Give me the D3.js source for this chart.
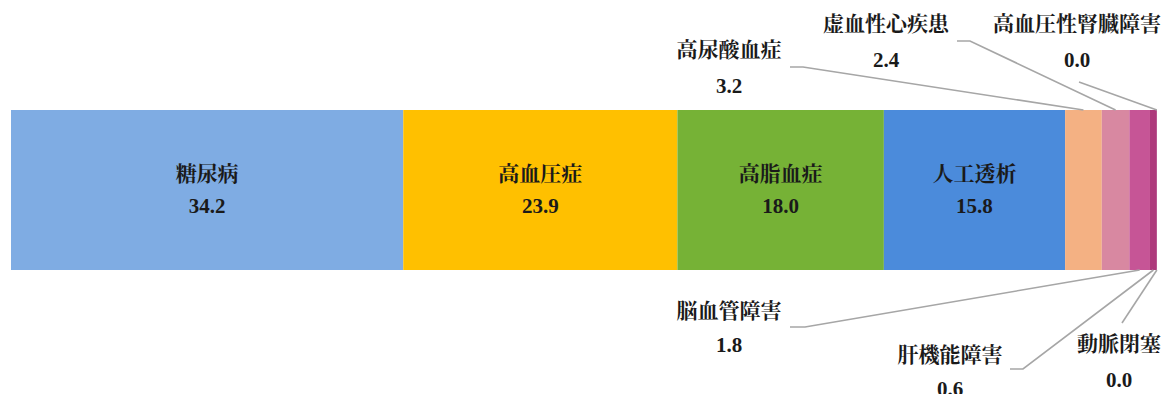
<!DOCTYPE html>
<html>
<head>
<meta charset="utf-8">
<script src="https://cdn.jsdelivr.net/npm/d3@7/dist/d3.min.js"></script>
<style>
  html, body { margin: 0; padding: 0; background: #fff; }
  svg text { font-family: "Liberation Serif", "Noto Serif CJK JP", "Noto Sans CJK JP", serif; font-weight: bold; fill: #1a1a1a; }
</style>
</head>
<body>
<svg id="chart" width="1165" height="394"></svg>
<script>
// Share of complications (%), in stacking order
const categories = ["糖尿病", "高血圧症", "高脂血症", "人工透析", "高尿酸血症", "虚血性心疾患", "脳血管障害", "肝機能障害", "動脈閉塞", "高血圧性腎臓障害"];
const values = [34.2, 23.9, 18.0, 15.8, 3.2, 2.4, 1.8, 0.6, 0.0, 0.0];
const colors = ["#7facE3", "#ffc000", "#76b236", "#4b8bdb", "#f4b183", "#d888a1", "#c65596", "#ae3a7c", "#9e2f6e", "#8e2a63"];

// Callout placement for the narrow segments (side, label centre x, name baseline y, leader elbow)
const callouts = {
  "高尿酸血症":     { side: "top",    cx: 729,  ny: 57,  vy: 93,  elbow: [[790, 67], [803, 67]] },
  "虚血性心疾患":   { side: "top",    cx: 886,  ny: 31,  vy: 67,  elbow: [[957, 41], [970, 41]] },
  "高血圧性腎臓障害": { side: "top",  cx: 1077, ny: 31,  vy: 67,  elbow: [[1079, 82]] },
  "脳血管障害":     { side: "bottom", cx: 729,  ny: 318, vy: 352, elbow: [[790, 327], [805, 327]] },
  "肝機能障害":     { side: "bottom", cx: 950,  ny: 362, vy: 396, elbow: [[1010, 369], [1023, 369]] },
  "動脈閉塞":       { side: "bottom", cx: 1119, ny: 351, vy: 387, elbow: [[1122, 323]] }
};

const svg = d3.select("#chart");
const barTop = 110, barBottom = 270;
const fontSize = 21;

const x = d3.scaleLinear().domain([0, 100]).range([11, 1158]);

const stacked = [];
let acc = 0;
categories.forEach((c, i) => {
  stacked.push({ name: c, value: values[i], x0: acc, x1: acc + values[i], color: colors[i] });
  acc += values[i];
});

// bar segments
svg.append("g").selectAll("rect")
  .data(stacked.filter(d => d.value > 0))
  .join("rect")
  .attr("x", d => x(d.x0))
  .attr("y", barTop)
  .attr("width", d => x(d.x1) - x(d.x0))
  .attr("height", barBottom - barTop)
  .attr("fill", d => d.color);

// labels inside the wide segments
const inside = stacked.filter(d => !callouts[d.name]);
const gIn = svg.append("g");
gIn.selectAll("text.name").data(inside).join("text")
  .attr("class", "name")
  .attr("x", d => (x(d.x0) + x(d.x1)) / 2)
  .attr("y", 181)
  .attr("text-anchor", "middle")
  .attr("font-size", fontSize)
  .text(d => d.name);
gIn.selectAll("text.val").data(inside).join("text")
  .attr("class", "val")
  .attr("x", d => (x(d.x0) + x(d.x1)) / 2)
  .attr("y", 213)
  .attr("text-anchor", "middle")
  .attr("font-size", fontSize)
  .text(d => d.value.toFixed(1));

// callouts with leader lines
const outside = stacked.filter(d => callouts[d.name]);
const line = d3.line();
const gOut = svg.append("g");
outside.forEach(d => {
  const c = callouts[d.name];
  const mid = (x(d.x0) + x(d.x1)) / 2;
  const anchorY = c.side === "top" ? barTop : barBottom;
  gOut.append("path")
    .attr("d", line([...c.elbow, [mid, anchorY]]))
    .attr("fill", "none")
    .attr("stroke", "#a6a6a6")
    .attr("stroke-width", 1.6);
  gOut.append("text")
    .attr("x", c.cx).attr("y", c.ny)
    .attr("text-anchor", "middle").attr("font-size", fontSize)
    .text(d.name);
  gOut.append("text")
    .attr("x", c.cx).attr("y", c.vy)
    .attr("text-anchor", "middle").attr("font-size", fontSize)
    .text(d.value.toFixed(1));
});
</script>
</body>
</html>
